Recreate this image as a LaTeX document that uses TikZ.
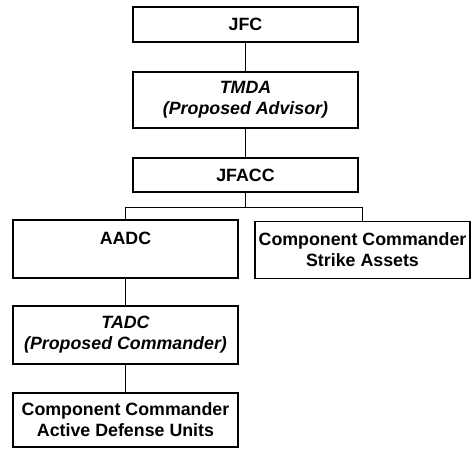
\documentclass[tikz,border=0pt]{standalone}
\usepackage{fontspec}
\setmainfont{Liberation Sans}
\usepackage{tikz}
\usetikzlibrary{positioning}

\begin{document}
\begin{tikzpicture}[auto, node distance=75pt]
        % Définition des styles
        \tikzstyle{block} = [draw, rectangle, line width=1.5pt, minimum width=225pt, align=center, inner sep=2pt, font=\fontsize{17.8}{21}\selectfont\bfseries]
        \tikzstyle{ligne} = [line width=1.1pt]

        % Cadre de l'image
        \useasboundingbox (0,0) rectangle (471pt,-450pt);

        % Chaîne de commandement
        \node [block, minimum height=35pt] at (245.5pt,-24.5pt) (jfc) {JFC};
        \node [block, below of=jfc, node distance=75.5pt, minimum height=56pt] (tmda) {\itshape TMDA\\\itshape (Proposed Advisor)};
        \node [block, below of=tmda, minimum height=34pt] (jfacc) {JFACC};

        % Composantes sous le JFACC
        \node [block, below of=jfacc, node distance=74pt, xshift=-120pt, minimum height=58pt] (aadc) {AADC\\\mbox{}};
        \node [block, right of=aadc, node distance=237pt, yshift=-1pt, minimum width=215pt, minimum height=57pt] (ccstrike) {Component Commander\\Strike Assets};

        % Branche défense active
        \node [block, below of=aadc, node distance=86pt, minimum height=58pt] (tadc) {\itshape TADC\\\itshape (Proposed Commander)};
        \node [block, below of=tadc, node distance=85pt, minimum height=54pt] (ccactive) {Component Commander\\Active Defense Units};

        % Connexions
        \draw [ligne] (jfc) -- (tmda);
        \draw [ligne] (tmda) -- (jfacc);
        \draw [ligne] (jfacc.south) -- ++(0,-15pt) -| (aadc.north);
        \draw [ligne] (jfacc.south) -- ++(0,-15pt) -| (ccstrike.north);
        \draw [ligne] (aadc) -- (tadc);
        \draw [ligne] (tadc) -- (ccactive);

    \end{tikzpicture}
\end{document}
